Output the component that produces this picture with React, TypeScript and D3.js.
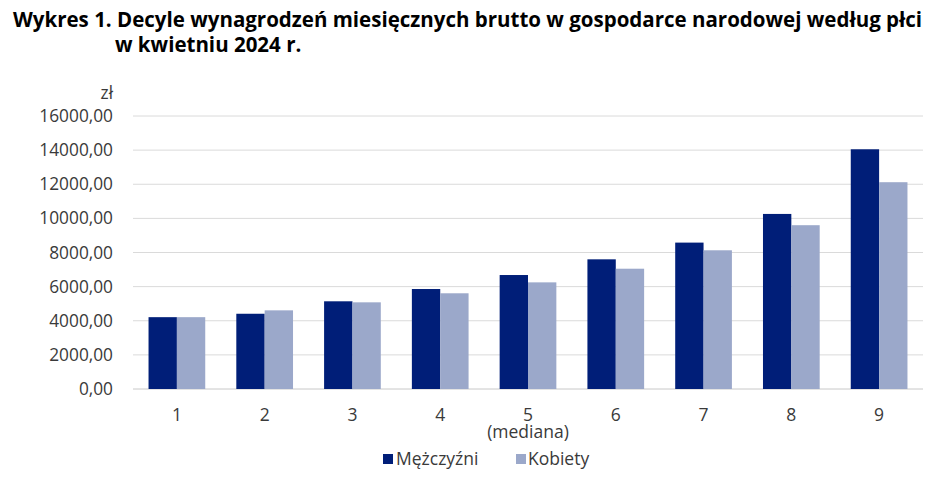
import React from 'react'
import * as d3 from 'd3'

// decyle 1..9, kwiecień 2024
const deciles = ['1', '2', '3', '4', '5', '6', '7', '8', '9']
const men = [4210, 4410, 5140, 5860, 6680, 7600, 8580, 10260, 14050]
const women = [4210, 4610, 5080, 5610, 6250, 7050, 8130, 9600, 12120]
const seriesNames = ['Mężczyźni', 'Kobiety']
const seriesColors = ['#001e78', '#9ba8ca']
const yTicks = [0, 2000, 4000, 6000, 8000, 10000, 12000, 14000, 16000]

const W = 948
const H = 492
const font = '"Open Sans", sans-serif'

const App = () => {
    const x = d3.scaleBand<string>()
        .domain(deciles)
        .range([133, 923])
        .paddingInner(0.354)
        .paddingOuter(0.177)
    const xs = d3.scaleBand<string>()
        .domain(seriesNames)
        .range([0, x.bandwidth()])
    const y = d3.scaleLinear().domain([0, 16000]).range([389, 116])

    const values = [men, women]
    const fmt = (v: number) => v.toFixed(2).replace('.', ',')

    return (
        <svg width={W} height={H} style={{ position: 'absolute', left: 0, top: 0, background: '#fff' }}
            fontFamily={font}>
            <text x={13} y={27} fontSize={20.5} fontWeight={700} fill="#000">
                Wykres 1. Decyle wynagrodzeń miesięcznych brutto w gospodarce narodowej według płci
            </text>
            <text x={115} y={52} fontSize={20.5} fontWeight={700} fill="#000">
                w kwietniu 2024 r.
            </text>

            {/* grid */}
            {yTicks.map(t => (
                <line key={t} x1={133} x2={923} y1={y(t)} y2={y(t)}
                    stroke={t === 0 ? '#c8c8c8' : '#dadada'} strokeWidth={1} />
            ))}
            {yTicks.map(t => (
                <text key={'l' + t} x={113} y={y(t) + 6} textAnchor="end" fontSize={17.3} fill="#3a3a3a">
                    {fmt(t)}
                </text>
            ))}
            <text x={113} y={99} textAnchor="end" fontSize={17.3} fill="#3a3a3a">zł</text>

            {/* bars */}
            {deciles.map((d, i) => (
                <g key={d} transform={`translate(${x(d)},0)`}>
                    {seriesNames.map((s, j) => (
                        <rect key={s} x={xs(s)} width={xs.bandwidth()}
                            y={y(values[j][i])} height={y(0) - y(values[j][i])}
                            fill={seriesColors[j]} />
                    ))}
                </g>
            ))}

            {/* x labels */}
            {deciles.map(d => (
                <text key={'x' + d} x={(x(d) as number) + x.bandwidth() / 2} y={421}
                    textAnchor="middle" fontSize={17.5} fill="#3a3a3a">
                    {d}
                    {d === '5' && <tspan x={(x(d) as number) + x.bandwidth() / 2} dy={16.5}>(mediana)</tspan>}
                </text>
            ))}

            {/* legend */}
            <rect x={383} y={454} width={10} height={10} fill={seriesColors[0]} />
            <text x={396} y={465} fontSize={17.5} fill="#3a3a3a">{seriesNames[0]}</text>
            <rect x={516} y={454} width={10} height={10} fill={seriesColors[1]} />
            <text x={528} y={465} fontSize={17.5} fill="#3a3a3a">{seriesNames[1]}</text>
        </svg>
    )
}

export default App
